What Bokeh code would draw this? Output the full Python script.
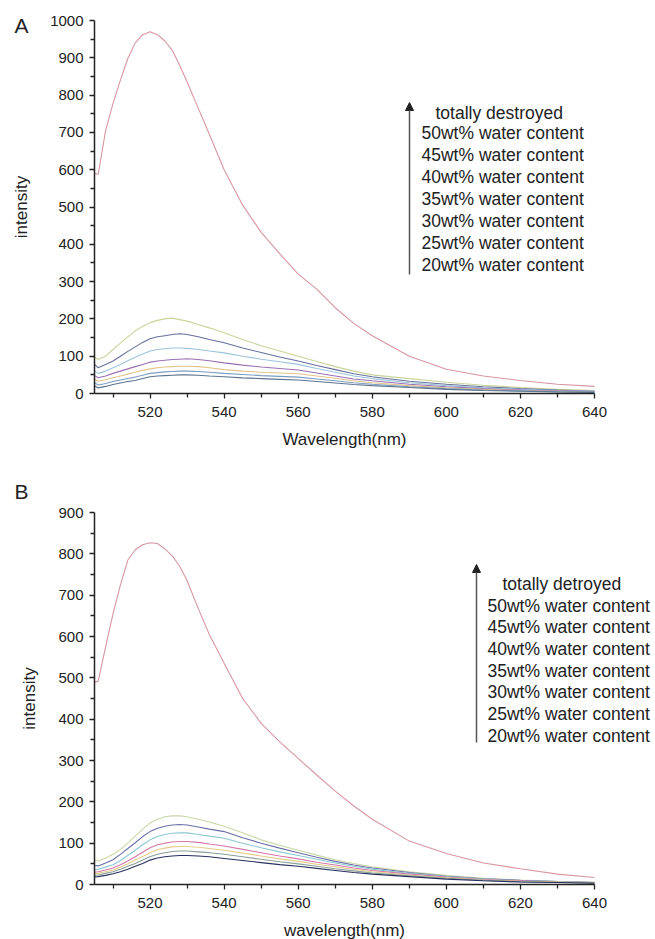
from bokeh.plotting import figure
from bokeh.layouts import column
from bokeh.models import Range1d, FixedTicker, Label, Arrow, NormalHead
from bokeh.embed import file_html
from bokeh.resources import INLINE

# ---------------- data ----------------
wavelength = [505, 506, 508, 510, 512, 514, 516, 518, 520, 522, 524, 526, 528, 530, 533,
              536, 540, 545, 550, 555, 560, 565, 570, 575, 580, 590, 600, 610, 620, 630, 640]

a_destroyed = [590, 588, 705, 778, 840, 898, 940, 962, 970, 962, 945, 920, 880, 835, 765,
               695, 600, 505, 432, 375, 320, 280, 230, 188, 155, 100, 65, 47, 35, 25, 19]
a_50 = [98, 91, 100, 118, 135, 152, 168, 180, 190, 196, 200, 202, 198, 194, 185,
        176, 163, 145, 128, 114, 100, 86, 72, 60, 50, 40, 30, 22, 16, 11, 8]
a_45 = [78, 69, 78, 87, 100, 113, 125, 137, 147, 152, 155, 158, 160, 158, 152,
        145, 136, 122, 110, 98, 87, 75, 64, 53, 45, 33, 25, 18, 13, 9, 6]
a_40 = [60, 54, 60, 69, 78, 88, 97, 106, 114, 118, 120, 122, 122, 121, 118,
        114, 109, 100, 92, 85, 78, 67, 57, 47, 40, 29, 21, 15, 11, 8, 6]
a_35 = [48, 42, 47, 54, 60, 66, 72, 78, 84, 87, 89, 91, 92, 93, 91,
        88, 82, 76, 71, 67, 63, 55, 47, 39, 34, 25, 18, 13, 9, 7, 5]
a_30 = [39, 33, 37, 42, 47, 52, 57, 62, 66, 69, 71, 72, 73, 73, 72,
        69, 64, 60, 57, 55, 53, 47, 41, 34, 29, 21, 15, 11, 8, 6, 4]
a_25 = [29, 23, 27, 32, 36, 40, 44, 49, 54, 56, 58, 59, 60, 60, 59,
        57, 54, 51, 48, 46, 44, 39, 34, 29, 25, 18, 13, 9, 7, 5, 4]
a_20 = [21, 15, 19, 24, 28, 32, 35, 40, 45, 47, 48, 49, 50, 50, 49,
        47, 45, 42, 40, 38, 36, 32, 28, 24, 21, 16, 11, 8, 6, 4, 3]

b_destroyed = [489, 492, 575, 655, 725, 785, 810, 822, 827, 825, 812, 795, 770, 735, 668,
               605, 535, 450, 390, 345, 305, 265, 226, 190, 158, 105, 75, 52, 38, 25, 17]
b_50 = [59, 57, 64, 73, 85, 100, 117, 134, 149, 158, 164, 166, 166, 164, 158,
        151, 141, 125, 108, 95, 83, 71, 60, 51, 43, 31, 22, 15, 11, 8, 6]
b_45 = [46, 45, 52, 60, 73, 87, 101, 116, 128, 136, 141, 144, 145, 144, 139,
        134, 128, 113, 100, 88, 77, 66, 56, 47, 40, 29, 20, 14, 10, 7, 5]
b_40 = [36, 37, 42, 48, 58, 70, 83, 96, 108, 116, 121, 124, 125, 125, 121,
        117, 112, 100, 89, 79, 70, 61, 52, 44, 37, 27, 19, 13, 9, 7, 5]
b_35 = [30, 31, 35, 40, 48, 57, 67, 78, 89, 96, 100, 103, 104, 104, 102,
        98, 93, 85, 77, 69, 62, 54, 47, 40, 34, 25, 18, 12, 9, 6, 5]
b_30 = [26, 27, 31, 35, 42, 50, 59, 68, 77, 84, 88, 91, 92, 92, 90,
        87, 83, 76, 69, 62, 56, 49, 43, 37, 31, 23, 16, 11, 8, 6, 4]
b_25 = [22, 23, 27, 31, 37, 44, 51, 59, 67, 73, 77, 80, 81, 81, 79,
        77, 73, 67, 61, 55, 50, 44, 38, 33, 28, 21, 15, 10, 7, 5, 4]
b_20 = [18, 19, 22, 26, 31, 37, 44, 51, 59, 64, 67, 69, 70, 70, 69,
        67, 63, 58, 53, 48, 44, 39, 34, 29, 25, 19, 13, 9, 6, 5, 3]

x_major = [520, 540, 560, 580, 600, 620, 640]
x_minor = [510, 530, 550, 570, 590, 610, 630]
ya_major = [0, 100, 200, 300, 400, 500, 600, 700, 800, 900, 1000]
ya_minor = [50, 150, 250, 350, 450, 550, 650, 750, 850, 950]
yb_major = [0, 100, 200, 300, 400, 500, 600, 700, 800, 900]
yb_minor = [50, 150, 250, 350, 450, 550, 650, 750, 850]

water = ["50wt% water content", "45wt% water content", "40wt% water content",
         "35wt% water content", "30wt% water content", "25wt% water content",
         "20wt% water content"]
head_a = "totally destroyed"
head_b = "totally detroyed"

colors_a = ["#d896a0", "#c9d49a", "#66709c", "#9cc4dc", "#9a70b4", "#e2c48a", "#7c9cc0", "#5c7490"]
colors_b = ["#d896a0", "#c8d8a4", "#6a70a8", "#8cc8d4", "#d478a8", "#e4cc8c", "#8aa098", "#283060"]

FONT = "Liberation Sans"
INK = "#222222"

# ---------------- layout (pixels) ----------------
FIG_W = 654
X_LO, X_HI = 505, 640           # axis extent
X_LO_PX, X_HI_PX = 94, 594      # canvas x of axis ends


def make_panel(letter, series, colors, ymax, ymaj, ymin, xlabel, head,
               fig_h, ytop_px, ybot_px, letter_base, arrow_x, arrow_top, arrow_bot,
               head_x, head_y, text_x, text_y0, text_step):
    sx = (X_HI_PX - X_LO_PX) / (X_HI - X_LO)
    sy = (ybot_px - ytop_px) / ymax
    x0 = X_LO - X_LO_PX / sx
    x1 = x0 + FIG_W / sx
    y1 = ymax + ytop_px / sy
    y0 = -(fig_h - ybot_px) / sy

    p = figure(width=FIG_W, height=fig_h,
               x_range=Range1d(x0, x1), y_range=Range1d(y0, y1),
               output_backend="svg", toolbar_location=None, title=None,
               min_border=0, min_border_left=0, min_border_right=0,
               min_border_top=0, min_border_bottom=0)
    p.outline_line_color = None
    p.xgrid.visible = False
    p.ygrid.visible = False
    p.background_fill_color = "white"
    p.border_fill_color = "white"

    for ys, c in zip(series, colors):
        p.line(wavelength, ys, line_color=c, line_width=1.1)

    p.xaxis.fixed_location = 0
    p.xaxis.bounds = (X_LO, X_HI)
    p.yaxis.fixed_location = X_LO
    p.yaxis.bounds = (0, ymax)

    for ax, maj, mn in ((p.xaxis[0], x_major, x_minor), (p.yaxis[0], ymaj, ymin)):
        ax.ticker = FixedTicker(ticks=maj, minor_ticks=mn)
        ax.axis_line_color = INK
        ax.axis_line_width = 1.5
        ax.major_tick_line_color = INK
        ax.major_tick_line_width = 1.3
        ax.minor_tick_line_color = INK
        ax.minor_tick_line_width = 1.3
        ax.major_tick_in = 0
        ax.major_tick_out = 5
        ax.minor_tick_in = 0
        ax.minor_tick_out = 4
        ax.major_label_text_font = FONT
        ax.major_label_text_font_size = "15px"
        ax.major_label_text_color = INK
        ax.axis_label_text_font = FONT
        ax.axis_label_text_font_style = "normal"
        ax.axis_label_text_color = INK
        ax.axis_label_text_font_size = "17px"

    p.xaxis.axis_label = xlabel
    p.xaxis.major_label_standoff = 8
    p.xaxis.axis_label_standoff = 10
    p.yaxis.axis_label = "intensity"
    p.yaxis.major_label_standoff = 6
    p.yaxis.axis_label_standoff = 16

    def up(cy):  # canvas y (from top) -> screen y (from bottom)
        return fig_h - cy

    p.add_layout(Label(x=14, y=up(letter_base), x_units="screen", y_units="screen",
                       text=letter, text_font=FONT, text_font_size="21px",
                       text_color=INK, text_baseline="alphabetic"))

    p.add_layout(Arrow(x_start=arrow_x, y_start=up(arrow_bot), x_end=arrow_x, y_end=up(arrow_top),
                       start_units="screen", end_units="screen",
                       line_color="#555555", line_width=1.5,
                       end=NormalHead(size=8, fill_color="#222222", line_color="#222222")))

    p.add_layout(Label(x=head_x, y=up(head_y), x_units="screen", y_units="screen",
                       text=head, text_font=FONT, text_font_size="17.5px",
                       text_color=INK, text_baseline="middle"))
    for i, t in enumerate(water):
        p.add_layout(Label(x=text_x, y=up(text_y0 + text_step * i), x_units="screen", y_units="screen",
                           text=t, text_font=FONT, text_font_size="17.5px",
                           text_color=INK, text_baseline="middle"))
    return p


pa = make_panel("A", [a_destroyed, a_50, a_45, a_40, a_35, a_30, a_25, a_20], colors_a,
                1000, ya_major, ya_minor, "Wavelength(nm)", head_a,
                453, 20, 393, 25, 409, 102, 274, 435, 112, 421, 132, 22)
pb = make_panel("B", [b_destroyed, b_50, b_45, b_40, b_35, b_30, b_25, b_20], colors_b,
                900, yb_major, yb_minor, "wavelength(nm)", head_b,
                486, 59, 431, 38, 476, 111, 289, 502, 130, 487, 152, 21.7)

layout = column(pa, pb, spacing=0)
open("out.html", "w").write(file_html(layout, INLINE))
